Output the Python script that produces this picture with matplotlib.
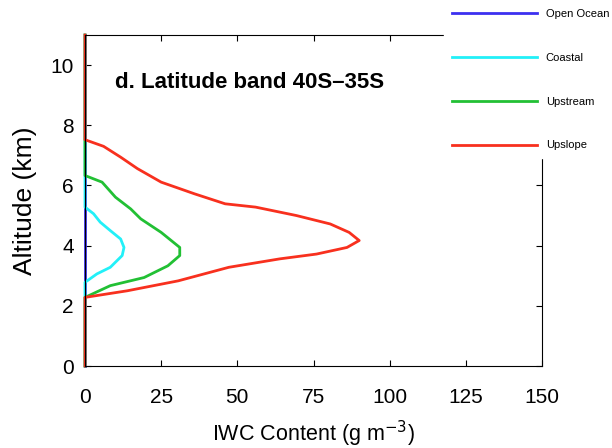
import matplotlib
matplotlib.use("Agg")
import matplotlib.pyplot as plt

plt.rcParams["font.family"] = ["Liberation Sans", "DejaVu Sans"]

# altitude (km) / IWC (g m^-3) profiles
open_ocean_alt = [0.0, 11.0]
open_ocean_iwc = [0.0, 0.0]

coastal_alt = [0.0, 2.78, 3.06, 3.28, 3.67, 3.94, 4.22, 4.50, 4.78, 5.06, 5.28, 11.0]
coastal_iwc = [0.0, 0.0, 3.9, 8.3, 12.2, 12.8, 11.7, 8.3, 5.0, 2.8, 0.0, 0.0]

upstream_alt = [0.0, 2.28, 2.67, 2.94, 3.33, 3.67, 3.94, 4.44, 4.89, 5.22, 5.61, 6.11, 6.33, 11.0]
upstream_iwc = [0.0, 0.0, 8.3, 19.4, 27.2, 31.1, 31.1, 25.0, 18.3, 15.0, 10.0, 5.6, 0.0, 0.0]

upslope_alt = [0.0, 2.28, 2.50, 2.83, 3.28, 3.56, 3.72, 3.94, 4.17, 4.44, 4.72, 5.00,
               5.28, 5.39, 5.72, 6.11, 6.56, 6.94, 7.30, 7.52, 11.0]
upslope_iwc = [0.0, 0.0, 13.9, 30.6, 47.2, 63.9, 76.0, 86.0, 90.0, 86.7, 80.5, 69.4,
               56.0, 46.0, 36.0, 25.0, 17.2, 11.7, 6.1, 0.0, 0.0]

labels = ["Open Ocean", "Coastal", "Upstream", "Upslope"]
colors = ["#3c30f0", "#22f0f8", "#22c034", "#f8301e"]
x_ticks = [0, 25, 50, 75, 100, 125, 150]
y_ticks = [0, 2, 4, 6, 8, 10]

fig = plt.figure(figsize=(6.12, 4.48), dpi=100)
ax = fig.add_axes([85 / 612, 1 - 366 / 448, 457 / 612, 331 / 448])

series = [(open_ocean_iwc, open_ocean_alt), (coastal_iwc, coastal_alt),
          (upstream_iwc, upstream_alt), (upslope_iwc, upslope_alt)]
handles = []
for (x, y), lab, c in zip(series, labels, colors):
    h, = ax.plot(x, y, color=c, lw=2.0, label=lab, clip_on=False)
    handles.append(h)

ax.set_xlim(0, 150)
ax.set_ylim(0, 11)
ax.set_xticks(x_ticks)
ax.set_yticks(y_ticks)
ax.tick_params(direction="in", top=True, right=True, labelsize=15, length=4)
ax.tick_params(axis="x", pad=16)
ax.tick_params(axis="y", pad=8)
ax.set_xlabel("IWC Content (g m$^{-3}$)", fontsize=15.5, labelpad=8)
ax.set_ylabel("Altitude (km)", fontsize=19, labelpad=10)
ax.text(0.066, 0.855, "d. Latitude band 40S\u201335S", transform=ax.transAxes,
        fontsize=16, fontweight="bold", va="center")

leg = fig.legend(handles=handles, loc="upper left", bbox_to_anchor=(444 / 612, 1 - 1 / 448),
                 fontsize=8, handlelength=7.65, handletextpad=0.8, labelspacing=3.05,
                 borderpad=0.7, frameon=True, fancybox=False, edgecolor="white",
                 framealpha=1.0, borderaxespad=0.0)
leg.set_zorder(10)

fig.savefig("out.png", dpi=100)
